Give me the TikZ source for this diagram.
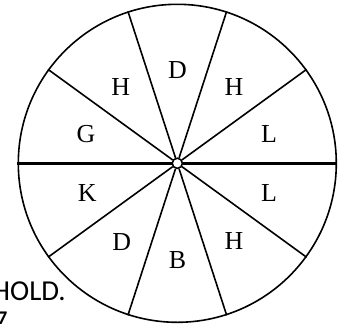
\documentclass[tikz,border=0pt]{standalone}
\usepackage{fontspec}
\setmainfont{Liberation Serif}
\newfontfamily\capfont{Carlito}
\begin{document}
\begin{tikzpicture}[x=1bp,y=-1bp,
  rim/.style={draw, circle, line width=1.6bp, inner sep=0pt, minimum size=318bp},
  hubc/.style={draw, circle, fill=white, line width=1.4bp, inner sep=0pt, minimum size=10bp},
  spoke/.style={line width=1.6bp},
  axis/.style={line width=2.6bp},
  lab/.style={font=\fontsize{26}{26}\selectfont, inner sep=0pt},
  side/.style={font=\capfont\fontsize{29}{29}\selectfont, inner sep=0pt}]
\useasboundingbox (0,0) rectangle (343,324);
\node[rim] (big) at (177.3,163.3) {};
\node[hubc] (hub) at (177.3,163.3) {};
\foreach \a in {36,72,108,144,216,252,288,324}{
  \draw[spoke] (hub.\a) -- (big.\a);
}
\draw[axis] (hub.180) -- (big.180);
\draw[axis] (hub.0) -- (big.0);
\node[hubc] at (hub) {};
\node[lab] (l1) at (177.5,69.7) {D};
\node[lab] (l2) at (234,87) {H};
\node[lab] (l3) at (120.8,87) {H};
\node[lab] (l4) at (86,134.5) {G};
\node[lab] (l5) at (269,134.5) {L};
\node[lab] (l6) at (87.2,193.3) {K};
\node[lab] (l7) at (269,193.3) {L};
\node[lab] (l8) at (121.7,241.7) {D};
\node[lab] (l9) at (234,241.5) {H};
\node[lab] (l10) at (177.5,259.7) {B};
\node[side, anchor=base east] (t1) at (66,300) {HOLD.};
\node[side, anchor=base east] (t2) at (8,330) {7};
\end{tikzpicture}
\end{document}
